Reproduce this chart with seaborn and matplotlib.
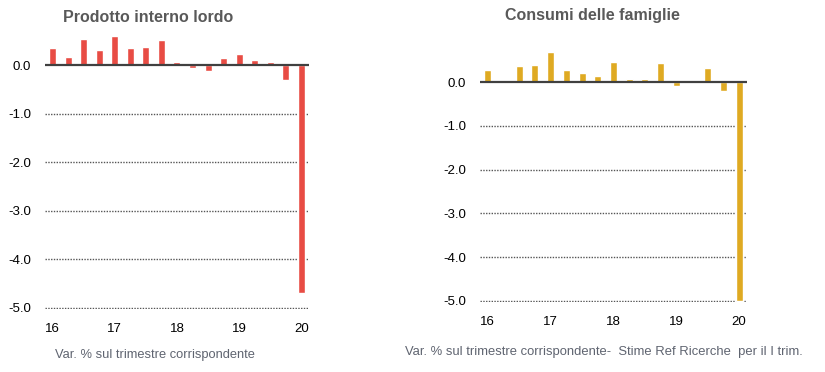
import numpy as np
import pandas as pd
import matplotlib
matplotlib.use("Agg")
import matplotlib.pyplot as plt
import seaborn as sns

# Data
trimestri = ["16Q1", "16Q2", "16Q3", "16Q4", "17Q1", "17Q2", "17Q3", "17Q4",
             "18Q1", "18Q2", "18Q3", "18Q4", "19Q1", "19Q2", "19Q3", "19Q4", "20Q1"]
pil = [0.35, 0.18, 0.54, 0.31, 0.61, 0.35, 0.39, 0.53,
       0.07, -0.05, -0.11, 0.15, 0.24, 0.12, 0.07, -0.31, -4.7]
consumi = [0.28, 0.03, 0.37, 0.39, 0.68, 0.27, 0.20, 0.14,
           0.46, 0.06, 0.07, 0.43, -0.08, 0.0, 0.33, -0.21, -5.0]
anni = ["16", "17", "18", "19", "20"]
yticks = [0, -1, -2, -3, -4, -5]
ylabels = ["0.0", "-1.0", "-2.0", "-3.0", "-4.0", "-5.0"]

sns.set_style("white")
plt.rcParams["font.family"] = ["Liberation Sans", "DejaVu Sans"]

fig = plt.figure(figsize=(8.25, 3.72), dpi=100)
ax1 = fig.add_axes([0.0545, 0.1694, 0.32, 0.785])
ax2 = fig.add_axes([0.5818, 0.1874, 0.3236, 0.7097])


def draw(ax, values, color):
    df = pd.DataFrame({"trim": trimestri, "val": values})
    sns.barplot(data=df, x="trim", y="val", color=color, saturation=1,
                width=0.45, ax=ax, zorder=3)
    ax.set_ylim(-5.03, 1.0)
    ax.set_xlim(-0.5, len(trimestri) - 0.5)
    for t in yticks[1:]:
        ax.axhline(t, color="#555555", lw=1, ls=(0, (1, 1)), zorder=1)
    ax.axhline(0, color="#404040", lw=1.6, zorder=4)
    ax.set_yticks(yticks)
    ax.set_yticklabels(ylabels, fontsize=9.5, color="black")
    ax.set_xticks(range(0, len(trimestri), 4))
    ax.set_xticklabels(anni, fontsize=9.5, color="black")
    ax.tick_params(axis="y", length=0, pad=10)
    ax.tick_params(axis="x", length=0, pad=10)
    ax.set_xlabel("")
    ax.set_ylabel("")
    sns.despine(ax=ax, left=True, bottom=True)


draw(ax1, pil, "#E84C44")
draw(ax2, consumi, "#DFAA22")

fig.text(0.179, 0.954, "Prodotto interno lordo", ha="center", va="center",
         fontsize=11.5, fontweight="bold", color="#595959")
fig.text(0.718, 0.958, "Consumi delle famiglie", ha="center", va="center",
         fontsize=11.5, fontweight="bold", color="#595959")
fig.text(0.0667, 0.045, "Var. % sul trimestre corrispondente", ha="left", va="center",
         fontsize=9.3, color="#5f6470")
fig.text(0.491, 0.053, "Var. % sul trimestre corrispondente-  Stime Ref Ricerche  per il I trim.",
         ha="left", va="center", fontsize=9.4, color="#5f6470")

fig.savefig("out.png", dpi=100)
